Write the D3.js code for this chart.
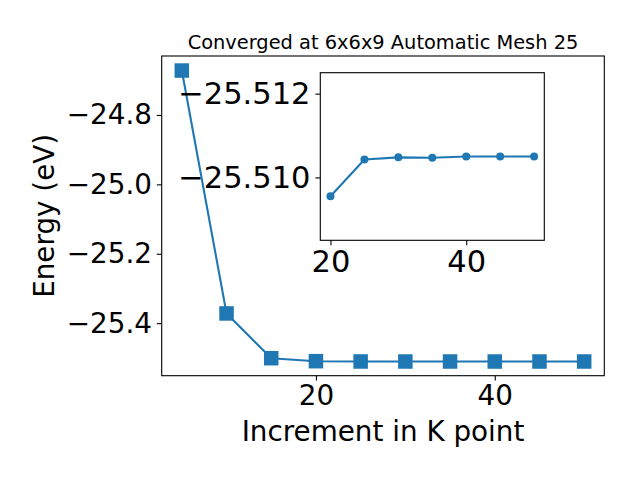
<!DOCTYPE html>
<html><head><meta charset="utf-8">
<script src="https://cdn.jsdelivr.net/npm/d3@7"></script>
<style>
body{margin:0;background:#fff;}
text{font-family:"DejaVu Sans",sans-serif;fill:#000;}
</style></head>
<body><svg id="c" width="640" height="480"></svg>
<script>
const kpoints = [5,10,15,20,25,30,35,40,45,50];
const energies = [-24.672,-25.372,-25.501,-25.50955,-25.51043,-25.51048,-25.51047,-25.5105,-25.5105,-25.5105];
const insetK = [20,25,30,35,40,45,50];
const insetE = [-25.50955,-25.51043,-25.51048,-25.51047,-25.5105,-25.5105,-25.5105];
const mainXTicks = [20,40];
const mainYTicks = [-24.8,-25.0,-25.2,-25.4];
const insetXTicks = [20,40];
const insetYTicks = [-25.512,-25.510];
const titleText = "Converged at 6x6x9 Automatic Mesh 25";
const xLabel = "Increment in K point";
const yLabel = "Energy (eV)";

const color = "#1f77b4";
const svg = d3.select("#c");
const fs = 27.8;
const fsi = 30.5;
const minus = s => s.replace(/-/g,"\u2212");

// main axes
const M = {l:161.7, r:604.3, t:56, b:375.7};
const x = d3.scaleLinear().domain([2.75,52.25]).range([M.l,M.r]);
const y = d3.scaleLinear().domain([-25.5514,-24.6301]).range([M.b,M.t]);

const main = svg.append("g");
const line = d3.line().x((d,i)=>x(kpoints[i])).y(d=>y(d));
main.append("path").datum(energies).attr("d",line).attr("fill","none").attr("stroke",color).attr("stroke-width",2.1);
const ms = 14.5;
main.selectAll("rect.m").data(energies).enter().append("rect")
  .attr("x",(d,i)=>x(kpoints[i])-ms/2).attr("y",d=>y(d)-ms/2)
  .attr("width",ms).attr("height",ms).attr("fill",color);

main.append("rect").attr("x",M.l).attr("y",M.t).attr("width",M.r-M.l).attr("height",M.b-M.t)
  .attr("fill","none").attr("stroke","#000").attr("stroke-width",1.1);

const xAx = d3.axisBottom(x).tickValues(mainXTicks).tickSize(4.9).tickPadding(4.9).tickFormat(d=>minus(d3.format("d")(d)));
const gx = svg.append("g").attr("transform",`translate(0,${M.b})`).call(xAx);
const yAx = d3.axisLeft(y).tickValues(mainYTicks).tickSize(4.9).tickPadding(4.9).tickFormat(d=>minus(d3.format(".1f")(d)));
const gy = svg.append("g").attr("transform",`translate(${M.l},0)`).call(yAx);
[gx,gy].forEach(g=>{
  g.select(".domain").remove();
  g.selectAll(".tick line").attr("stroke","#000").attr("stroke-width",1.1);
  g.selectAll(".tick text").attr("font-size",fs).attr("font-family","DejaVu Sans");
});

svg.append("text").attr("x",(M.l+M.r)/2).attr("y",49).attr("text-anchor","middle").attr("font-size",19.4).text(titleText);
svg.append("text").attr("x",(M.l+M.r)/2).attr("y",441).attr("text-anchor","middle").attr("font-size",fs).text(xLabel);
svg.append("text").attr("transform",`translate(54,${(M.t+M.b)/2}) rotate(-90)`).attr("text-anchor","middle").attr("font-size",fs).text(yLabel);

// inset axes
const I = {l:320.3, r:544.3, t:72.7, b:240.3};
const xi = d3.scaleLinear().domain([18.5,51.5]).range([I.l,I.r]);
const yi = d3.scaleLinear().domain([-25.5085,-25.5125]).range([I.b,I.t]);
const ins = svg.append("g");
ins.append("rect").attr("x",I.l).attr("y",I.t).attr("width",I.r-I.l).attr("height",I.b-I.t).attr("fill","#fff");
const linei = d3.line().x((d,i)=>xi(insetK[i])).y(d=>yi(d));
ins.append("path").datum(insetE).attr("d",linei).attr("fill","none").attr("stroke",color).attr("stroke-width",2.1);
ins.selectAll("circle").data(insetE).enter().append("circle")
  .attr("cx",(d,i)=>xi(insetK[i])).attr("cy",d=>yi(d)).attr("r",4).attr("fill",color);
ins.append("rect").attr("x",I.l).attr("y",I.t).attr("width",I.r-I.l).attr("height",I.b-I.t)
  .attr("fill","none").attr("stroke","#000").attr("stroke-width",1.1);
const gxi = svg.append("g").attr("transform",`translate(0,${I.b})`)
  .call(d3.axisBottom(xi).tickValues(insetXTicks).tickSize(4.9).tickPadding(4.9).tickFormat(d=>d3.format("d")(d)));
const gyi = svg.append("g").attr("transform",`translate(${I.l},0)`)
  .call(d3.axisLeft(yi).tickValues(insetYTicks).tickSize(4.9).tickPadding(4.9).tickFormat(d=>minus(d3.format(".3f")(d))));
[gxi,gyi].forEach(g=>{
  g.select(".domain").remove();
  g.selectAll(".tick line").attr("stroke","#000").attr("stroke-width",1.1);
  g.selectAll(".tick text").attr("font-size",fsi).attr("font-family","DejaVu Sans");
});
</script></body></html>
